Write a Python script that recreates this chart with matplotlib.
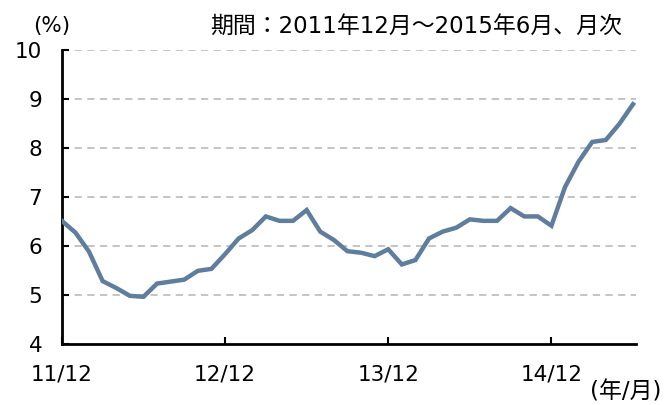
import matplotlib
matplotlib.use("Agg")
import matplotlib.pyplot as plt

plt.rcParams['font.family'] = ['DejaVu Sans', 'Noto Sans CJK JP']

# monthly values, 2011/12 .. 2015/06
values = [6.51, 6.27, 5.88, 5.28, 5.14, 4.98, 4.96, 5.23, 5.27, 5.31, 5.49, 5.53,
          5.83, 6.15, 6.32, 6.60, 6.51, 6.51, 6.73, 6.29, 6.12, 5.89, 5.86, 5.79,
          5.93, 5.62, 5.71, 6.15, 6.29, 6.37, 6.54, 6.51, 6.51, 6.77, 6.60, 6.60,
          6.41, 7.20, 7.72, 8.12, 8.16, 8.49, 8.89]
xtick_pos = [0, 12, 24, 36]
xtick_labels = ["11/12", "12/12", "13/12", "14/12"]
yticks = [4, 5, 6, 7, 8, 9, 10]

fig = plt.figure(figsize=(6.65, 4.05), dpi=100)
ax = fig.add_axes([0.093, 0.151, 0.863, 0.726])

x = list(range(len(values)))
ax.plot(x, values, color="#5F7D9C", lw=3.2, solid_joinstyle="miter", zorder=3)

ax.set_xlim(0, 42.2)
ax.set_ylim(4, 10)
ax.set_yticks(yticks)
ax.set_yticklabels([str(v) for v in yticks])
ax.set_xticks(xtick_pos)
ax.set_xticklabels(xtick_labels)

for v in yticks[1:]:
    ax.axhline(v, color="#BFBFBF", lw=1.3, ls=(0, (4, 3)), zorder=1)

for s in ["top", "right"]:
    ax.spines[s].set_visible(False)
for s in ["left", "bottom"]:
    ax.spines[s].set_linewidth(2.0)
    ax.spines[s].set_color("black")

ax.tick_params(axis="y", direction="in", length=5, width=1.5, labelsize=15.5, pad=14)
ax.tick_params(axis="x", direction="in", length=5, width=1.5, labelsize=15.5, pad=15)

fig.text(0.05, 0.935, "(%)", fontsize=15.5, ha="left", va="center")
fig.text(0.935, 0.935, "期間：2011年12月～2015年6月、月次", fontsize=16.5, ha="right", va="center")
fig.text(0.995, 0.033, "(年/月)", fontsize=16.5, ha="right", va="center")

fig.savefig("out.png", dpi=100)
